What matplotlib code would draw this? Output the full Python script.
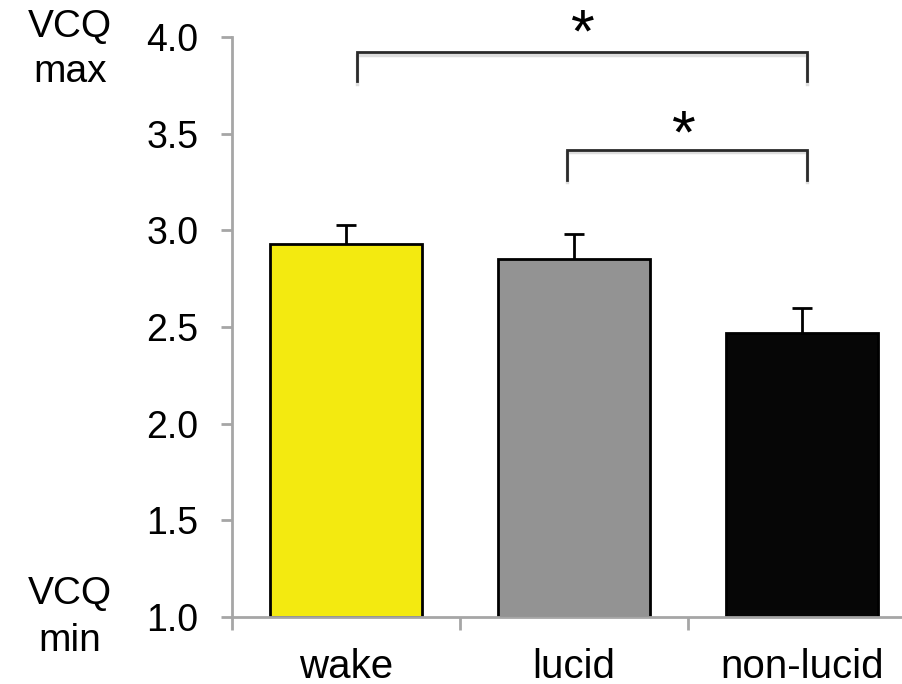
import matplotlib.pyplot as plt
import numpy as np

plt.rcParams['font.family'] = ['Liberation Sans', 'DejaVu Sans']

# data
categories = ['wake', 'lucid', 'non-lucid']
means = [2.93, 2.85, 2.47]
sems = [0.10, 0.13, 0.13]
colors = ['#f3ea10', '#939393', '#060606']
yticks = [1.0, 1.5, 2.0, 2.5, 3.0, 3.5, 4.0]

# significance brackets: (x left, x right, y top, y bottom of legs)
brackets = [(0.05, 2.02, 3.92, 3.77), (0.97, 2.02, 3.415, 3.26)]
stars = [(1.04, 4.08), (1.48, 3.56)]

fig = plt.figure(figsize=(9.02, 6.84), dpi=100)
ax = fig.add_axes([0.2572, 0.0980, 0.7583, 0.8479])

x = np.arange(len(categories))
ax.bar(x, [m - 1.0 for m in means], bottom=1.0, width=0.667, color=colors,
       edgecolor='black', linewidth=2, zorder=2)
eb = ax.errorbar(x, means, yerr=[np.zeros(len(sems)), sems], fmt='none',
                 ecolor='black', elinewidth=2, capsize=7.5, capthick=2, zorder=3)
eb[1][0].set_visible(False)  # no lower cap

for xl, xr, yt, yb in brackets:
    ax.plot([xl, xl, xr, xr], [yb - 0.012, yt - 0.012, yt - 0.012, yb - 0.012],
            color='#dddddd', lw=2.5, zorder=1, solid_joinstyle='miter')
    ax.plot([xl, xl, xr, xr], [yb, yt, yt, yb], color='#2a2a2a', lw=2,
            zorder=2, solid_joinstyle='miter')
for sx, sy in stars:
    # the asterisk sits high in its em box, so shift the anchor down
    ax.text(sx, sy - 0.075, '*', ha='center', va='center', fontsize=44,
            clip_on=False)

ax.set_xlim(-0.5, 2.5)
ax.set_ylim(1.0, 4.0)

for s in ['top', 'right']:
    ax.spines[s].set_visible(False)
for s in ['left', 'bottom']:
    ax.spines[s].set_color('#a6a6a6')
    ax.spines[s].set_linewidth(2)

ax.set_yticks(yticks)
ax.set_yticklabels([f'{v:.1f}' for v in yticks])
ax.tick_params(axis='y', length=8, width=2, color='#a6a6a6', labelsize=27, pad=16)

ax.set_xticks([-0.5, 0.5, 1.5, 2.5])
ax.set_xticklabels([])
ax.tick_params(axis='x', which='major', length=9, width=2, color='#a6a6a6')
ax.set_xticks(x, minor=True)
ax.set_xticklabels(categories, minor=True)
ax.tick_params(axis='x', which='minor', length=0, labelsize=29, pad=22)

fig.text(70 / 902, 1 - 27 / 684, 'VCQ', ha='center', va='center', fontsize=28)
fig.text(70 / 902, 1 - 72 / 684, 'max', ha='center', va='center', fontsize=28)
fig.text(70 / 902, 1 - 594 / 684, 'VCQ', ha='center', va='center', fontsize=28)
fig.text(70 / 902, 1 - 641 / 684, 'min', ha='center', va='center', fontsize=28)

fig.savefig('out.png', dpi=100)
